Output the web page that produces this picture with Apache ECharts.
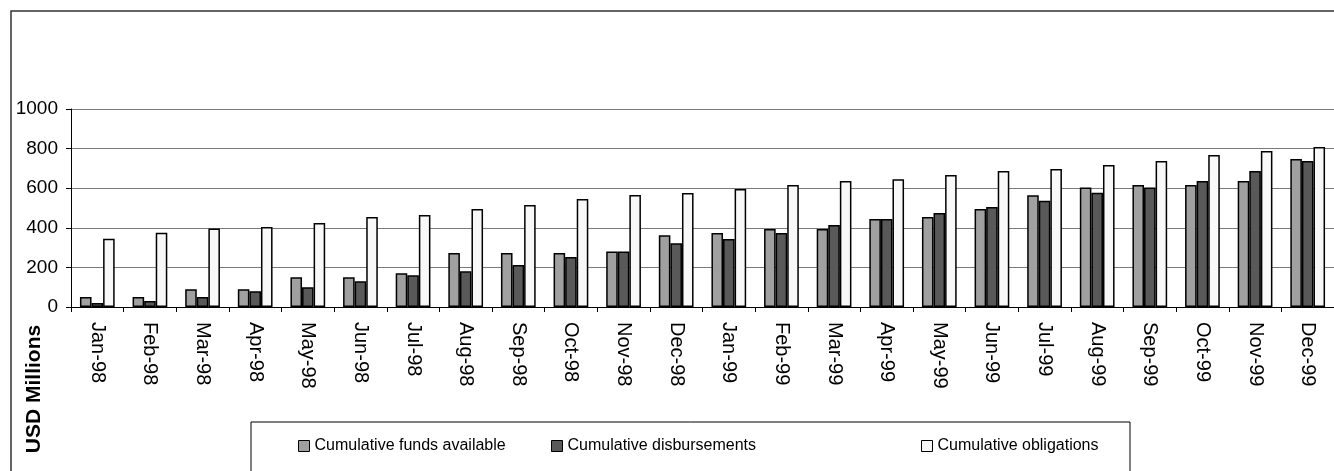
<!DOCTYPE html>
<html>
<head>
<meta charset="utf-8">
<script src="https://cdn.jsdelivr.net/npm/echarts@6/dist/echarts.min.js"></script>
<style>
html,body{margin:0;padding:0;background:#fff;}
#chart{width:1334px;height:471px;}
</style>
</head>
<body>
<div id="chart"></div>
<script>
const categories = ['Jan-98','Feb-98','Mar-98','Apr-98','May-98','Jun-98','Jul-98','Aug-98','Sep-98','Oct-98','Nov-98','Dec-98',
  'Jan-99','Feb-99','Mar-99','Apr-99','May-99','Jun-99','Jul-99','Aug-99','Sep-99','Oct-99','Nov-99','Dec-99'];
const fundsAvailable = [50,50,90,90,150,150,170,273,273,273,280,362,374,394,394,444,455,495,564,604,616,616,636,747];
const disbursements = [20,30,50,80,100,130,160,180,212,252,280,322,344,374,414,444,475,505,537,577,604,636,687,737];
const obligations = [345,375,396,404,424,455,465,495,515,545,566,576,596,616,636,645,667,687,697,717,737,768,788,808];
const seriesNames = ['Cumulative funds available','Cumulative disbursements','Cumulative obligations'];
const yTicks = [0,200,400,600,800,1000];

const FONT = 'Liberation Sans, Arial, sans-serif';
const colors = ['#a0a0a0','#595959','#f8f8f8'];

const chart = echarts.init(document.getElementById('chart'), null, {renderer:'canvas'});
const mkSeries = (name, data, color) => ({
  name, type:'bar', data,
  barGap:'0%', barCategoryGap:'34%',
  itemStyle:{color, borderColor:'#000', borderWidth:1.5},
  emphasis:{disabled:true}
});
const legendBase = (name, left) => ({
  data:[name], left, top:438, padding:0,
  itemWidth:11, itemHeight:11, itemGap:5,
  icon:'rect',
  itemStyle:{borderColor:'#000', borderWidth:1},
  textStyle:{fontFamily:FONT, fontSize:16, color:'#000'},
  selectedMode:false
});
chart.setOption({
  animation:false,
  backgroundColor:'#fff',
  grid:{left:71, right:-4, top:109, bottom:164, containLabel:false},
  legend:[
    legendBase(seriesNames[0], 298),
    legendBase(seriesNames[1], 551),
    legendBase(seriesNames[2], 921)
  ],
  xAxis:{
    type:'category', data:categories, boundaryGap:true,
    axisLine:{lineStyle:{color:'#000', width:1}},
    axisTick:{show:true, length:5, lineStyle:{color:'#000'}},
    axisLabel:{rotate:-90, margin:15, fontFamily:FONT, fontSize:20, color:'#000', interval:0}
  },
  yAxis:{
    type:'value', min:yTicks[0], max:yTicks[yTicks.length-1], interval:200,
    axisLine:{show:true, lineStyle:{color:'#000', width:1}},
    axisTick:{show:true, length:5, lineStyle:{color:'#000'}},
    axisLabel:{margin:13, fontFamily:FONT, fontSize:19, color:'#000', formatter:(v)=>String(v)},
    splitLine:{show:true, lineStyle:{color:'#7a7a7a', width:1.2}}
  },
  graphic:[
    {type:'rect', shape:{x:11, y:11, width:1340, height:480}, style:{fill:'none', stroke:'#333', lineWidth:1.5}, silent:true, z:-1},
    {type:'rect', shape:{x:251, y:422, width:879, height:80}, style:{fill:'none', stroke:'#000', lineWidth:1}, silent:true, z:-1},
    {type:'text', x:34, y:389, rotation:Math.PI/2,
      style:{text:'USD Millions', fontFamily:FONT, fontWeight:'bold', fontSize:21, fill:'#000', textAlign:'center', textVerticalAlign:'middle'}}
  ],
  series:[
    mkSeries(seriesNames[0], fundsAvailable, colors[0]),
    mkSeries(seriesNames[1], disbursements, colors[1]),
    mkSeries(seriesNames[2], obligations, colors[2])
  ]
});
</script>
</body>
</html>
